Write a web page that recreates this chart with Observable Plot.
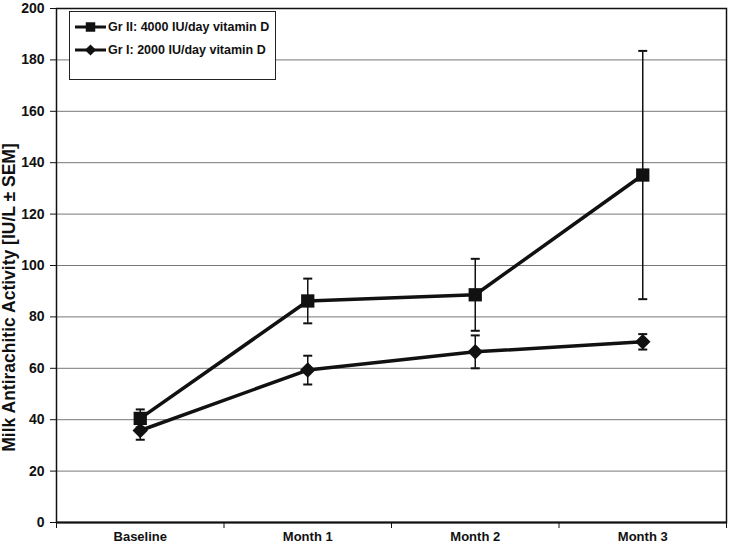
<!DOCTYPE html>
<html>
<head>
<meta charset="utf-8">
<script src="https://cdn.jsdelivr.net/npm/d3@7"></script>
<script src="https://cdn.jsdelivr.net/npm/@observablehq/plot@0.6"></script>
<style>
  body { margin: 0; background: #fff; font-family: "Liberation Sans", Arial, sans-serif; }
  #wrap { position: relative; width: 729px; height: 549px; }
  #legend { position: absolute; left: 69px; top: 11px; width: 205px; height: 67px; background: #fff; border: 1.5px solid #222; }
</style>
</head>
<body>
<div id="wrap"></div>
<script>
const categories = ["Baseline", "Month 1", "Month 2", "Month 3"];
const seriesNames = ["Gr II: 4000 IU/day vitamin D", "Gr I: 2000 IU/day vitamin D"];
const grIIMean = [40.5, 86.2, 88.6, 135.2];
const grIISem  = [3.5, 8.7, 14.0, 48.3];
const grIMean  = [35.8, 59.3, 66.4, 70.3];
const grISem   = [3.6, 5.6, 6.4, 3.0];
const yTicks = [0, 20, 40, 60, 80, 100, 120, 140, 160, 180, 200];
const yLabel = "Milk Antirachitic Activity [IU/L ± SEM]";

const rows = [];
categories.forEach((c, i) => {
  rows.push({series: seriesNames[0], i, cat: c, mean: grIIMean[i], sem: grIISem[i], sym: "square"});
  rows.push({series: seriesNames[1], i, cat: c, mean: grIMean[i], sem: grISem[i], sym: "diamond2"});
});
rows.forEach(d => { d.x = d.i + 0.5; d.lo = d.mean - d.sem; d.hi = d.mean + d.sem; });

const capSymbol = { draw(ctx, size) { const w = 4.5; ctx.moveTo(-w, 0); ctx.lineTo(w, 0); } };

const chart = Plot.plot({
  width: 729,
  height: 549,
  marginLeft: 56,
  marginRight: 3,
  marginTop: 8,
  marginBottom: 27,
  style: { fontFamily: "Liberation Sans, Arial, sans-serif", fontSize: "12px", color: "#111", background: "#fff" },
  x: { domain: [0, categories.length] },
  y: { domain: [0, 200] },
  marks: [
    Plot.gridY(yTicks, { stroke: "#777", strokeOpacity: 1, strokeWidth: 1 }),
    Plot.frame({ stroke: "#111", strokeWidth: 1.5 }),
    Plot.axisY(yTicks, { tickSize: 6, tickPadding: 6, fontSize: 14, fontWeight: "bold", label: null }),
    Plot.text([yLabel], { frameAnchor: "left", textAnchor: "middle", lineAnchor: "middle", rotate: -90, dx: -47, dy: 32,
      fontSize: 17.5, fontWeight: "bold", fill: "#111" }),
    Plot.axisX(d3.range(categories.length + 1), { tickSize: 6, tickFormat: () => "", label: null }),
    Plot.axisX(categories.map((c, i) => i + 0.5), { tickSize: 0, tickPadding: 9, fontSize: 13, fontWeight: "bold",
      tickFormat: v => categories[Math.floor(v)], label: null }),
    Plot.ruleY([0], { stroke: "#111", strokeWidth: 2 }),
    Plot.ruleX(rows, { x: "x", y1: "lo", y2: "hi", stroke: "#111", strokeWidth: 1.5 }),
    Plot.dot(rows, { x: "x", y: "lo", symbol: () => capSymbol, stroke: "#111", strokeWidth: 2, r: 4 }),
    Plot.dot(rows, { x: "x", y: "hi", symbol: () => capSymbol, stroke: "#111", strokeWidth: 2, r: 4 }),
    Plot.line(rows, { x: "x", y: "mean", z: "series", stroke: "#111", strokeWidth: 3.5 }),
    Plot.dot(rows.filter(d => d.sym === "square"), { x: "x", y: "mean", symbol: "square", fill: "#111", r: 7.5 }),
    Plot.dot(rows.filter(d => d.sym === "diamond2"), { x: "x", y: "mean", symbol: "diamond2", fill: "#111", r: 7 })
  ]
});

const wrap = document.getElementById("wrap");
wrap.appendChild(chart);

const legend = document.createElement("div");
legend.id = "legend";
const lsvg = d3.select(legend).append("svg").attr("width", 205).attr("height", 67);
const legendItems = [
  { name: seriesNames[0], sym: d3.symbolSquare, size: 90 },
  { name: seriesNames[1], sym: d3.symbolDiamond2, size: 80 }
];
legendItems.forEach((it, k) => {
  const y = 15 + k * 23;
  lsvg.append("line").attr("x1", 5).attr("x2", 36).attr("y1", y).attr("y2", y).attr("stroke", "#111").attr("stroke-width", 3);
  lsvg.append("path").attr("d", d3.symbol(it.sym, it.size)()).attr("transform", `translate(20.5,${y})`).attr("fill", "#111");
  lsvg.append("text").attr("x", 38).attr("y", y).attr("dy", "0.35em").attr("font-size", 12.5).attr("font-weight", "bold")
    .attr("font-family", "Liberation Sans, Arial, sans-serif").attr("fill", "#111").text(it.name);
});
wrap.appendChild(legend);
</script>
</body>
</html>
